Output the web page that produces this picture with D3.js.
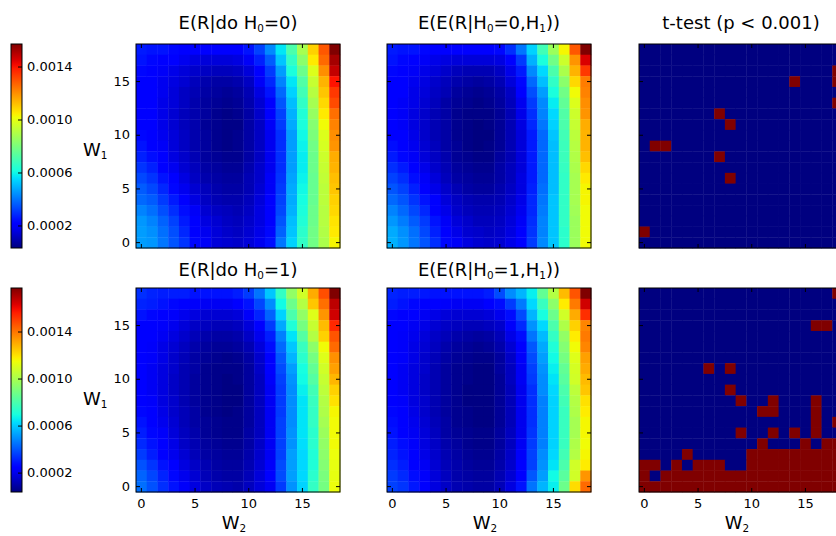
<!DOCTYPE html>
<html>
<head>
<meta charset="utf-8">
<script src="https://cdn.jsdelivr.net/npm/d3@7"></script>
<style>
  body { margin: 0; background: #fff; }
  svg { display: block; font-family: "DejaVu Sans", sans-serif; }
  .axis text { font-family: "DejaVu Sans", sans-serif; font-size: 13px; fill: #000; }
  .axis line { stroke: #000; }
</style>
</head>
<body>
<svg id="chart" width="836" height="536"></svg>
<script>
// grid: W2 along x, W1 along y
const w2Values = d3.range(19);
const w1Values = d3.range(19);
const tickValues = [0, 5, 10, 15];
const colorbarTicks = [0.0002, 0.0006, 0.0010, 0.0014];

// colour limits of each row (shared by its two reward maps)
const rangeH0 = [0.00003, 0.00157];
const rangeH1 = [0.000035, 0.00177];

// expected reward, units of 1e-5; rows run from W1 = 18 (top) down to W1 = 0
const doH0 = [
  [26,25,25,23,22,21,21,21,21,21,25,32,43,57,71,88,109,129,157],
  [25,23,21,20,18,16,15,15,15,16,19,27,36,52,66,83,105,126,152],
  [23,21,19,17,15,13,12,11,11,12,15,22,31,46,62,77,98,120,148],
  [21,20,18,16,14,11,9,8,8,9,12,19,28,42,57,72,94,114,140],
  [21,20,18,15,12,10,8,7,6,7,10,16,25,38,54,69,91,111,134],
  [21,20,17,15,12,9,7,6,5,6,9,14,22,35,51,66,88,108,131],
  [21,20,17,14,11,9,7,5,4,5,8,13,20,32,49,63,85,105,125],
  [21,20,17,14,11,9,6,5,4,4,8,12,19,31,48,62,82,102,122],
  [23,21,18,15,12,9,7,5,4,5,8,12,18,29,46,60,80,98,120],
  [25,22,19,15,12,9,7,5,4,5,8,12,18,29,46,59,78,97,119],
  [27,24,20,16,13,10,7,6,5,5,8,12,18,29,46,58,77,95,115],
  [30,27,22,18,14,11,8,7,6,6,9,13,18,29,46,58,77,94,114],
  [33,30,25,20,16,12,9,8,7,7,10,13,19,30,47,59,76,93,112],
  [36,33,28,23,18,14,11,9,8,8,10,14,19,31,48,60,76,92,111],
  [38,36,31,26,21,16,12,10,9,9,11,15,20,32,48,61,76,92,109],
  [42,39,34,29,24,19,14,12,11,10,12,16,21,33,49,62,77,91,108],
  [45,42,37,32,26,21,16,14,12,11,13,16,22,35,51,63,77,91,106],
  [46,44,39,34,28,22,18,15,13,12,14,17,23,37,52,65,78,90,105],
  [46,45,40,35,30,23,19,15,14,13,15,18,24,40,54,66,78,89,103]
];

const condH0 = [
  [26,25,25,23,22,21,21,21,21,21,23,29,40,54,69,86,103,129,157],
  [25,23,21,19,17,16,15,15,15,15,16,22,31,49,62,78,95,119,145],
  [23,21,19,17,15,13,11,10,10,10,12,17,26,43,55,71,89,114,134],
  [21,20,18,16,13,11,9,8,7,8,10,15,23,38,51,66,83,108,123],
  [21,20,17,15,12,10,7,6,5,6,8,12,20,34,46,62,78,102,122],
  [21,19,17,14,11,8,6,5,4,5,7,11,18,31,43,58,75,98,120],
  [21,19,16,13,10,8,5,4,4,4,6,10,17,29,42,55,72,95,119],
  [21,19,16,13,10,8,5,4,3,4,6,10,16,28,40,54,71,94,115],
  [22,20,17,13,10,8,5,4,3,3,6,10,15,26,38,52,69,92,114],
  [24,21,18,14,11,8,6,4,3,4,6,10,15,26,38,51,68,91,114],
  [26,23,19,15,12,9,6,5,4,4,7,10,15,26,38,51,68,90,112],
  [29,26,21,17,13,10,7,6,5,5,8,11,15,26,38,51,67,89,108],
  [32,29,24,19,15,11,8,7,6,6,8,11,16,26,38,51,66,88,105],
  [35,32,27,22,17,13,10,8,7,7,9,12,16,27,39,51,66,88,103],
  [38,35,30,25,20,15,12,10,9,9,10,13,17,28,40,52,66,88,103],
  [42,38,33,28,22,17,13,11,10,10,11,14,18,28,41,52,66,87,102],
  [45,41,36,31,25,19,15,13,11,11,12,15,19,29,42,52,66,86,102],
  [48,44,39,33,27,21,17,14,13,12,13,16,21,30,42,52,65,86,102],
  [49,45,40,35,29,23,19,16,14,13,14,17,22,31,43,52,65,86,102]
];

const doH1 = [
  [33,31,30,30,30,28,28,28,28,30,35,45,59,75,95,108,130,147,177],
  [31,30,28,26,24,22,21,21,21,23,28,37,49,68,87,102,125,141,168],
  [28,26,24,22,20,18,16,16,16,17,22,31,42,61,80,95,111,134,165],
  [25,24,22,20,17,14,13,12,12,13,17,25,35,54,71,89,106,127,154],
  [24,23,21,18,15,12,10,9,9,10,14,20,30,47,64,82,102,123,146],
  [24,22,19,16,13,10,8,7,7,8,11,17,27,43,59,76,94,115,142],
  [24,22,19,15,12,9,7,6,5,6,9,15,25,40,56,73,89,111,135],
  [24,21,18,15,11,9,6,5,5,5,8,14,23,38,52,69,85,108,132],
  [24,21,18,14,11,8,6,5,4,5,8,13,22,36,50,68,82,106,128],
  [24,21,18,14,11,8,6,5,4,4,8,13,21,35,49,66,78,104,123],
  [25,22,18,15,11,8,6,5,4,4,8,13,21,35,49,64,76,102,120],
  [26,23,19,15,12,9,6,5,4,5,8,13,21,35,49,64,75,101,116],
  [28,25,20,16,12,9,7,6,5,5,8,13,21,36,49,64,75,99,115],
  [30,26,22,17,13,10,7,6,5,5,9,13,21,36,50,64,73,97,115],
  [32,28,23,19,14,11,8,7,6,6,9,14,21,36,50,63,73,95,115],
  [35,30,25,20,16,12,9,8,7,7,10,15,21,36,52,62,71,94,114],
  [39,34,28,23,18,14,11,9,8,8,11,16,22,38,52,62,71,92,113],
  [42,37,31,26,20,16,12,10,9,9,12,17,23,38,52,62,73,90,113],
  [44,39,33,28,22,18,14,12,11,10,13,17,21,35,50,61,75,89,114]
];

const condH1 = [
  [31,30,30,29,28,28,28,28,28,30,38,49,56,66,85,102,127,146,177],
  [30,28,26,25,23,22,21,21,21,23,27,35,46,62,76,94,118,139,165],
  [26,25,23,21,19,17,16,16,16,17,20,27,38,56,69,87,108,130,153],
  [24,23,21,19,16,14,13,12,12,13,15,22,32,50,62,80,101,123,137],
  [24,22,20,17,14,12,10,9,8,9,12,19,27,45,57,75,95,118,139],
  [24,22,19,16,13,10,8,7,6,7,10,16,24,40,54,71,92,115,137],
  [24,22,19,15,12,9,7,6,5,5,8,14,22,38,52,68,89,111,132],
  [24,21,18,15,11,8,6,5,4,4,8,13,21,36,50,66,85,109,130],
  [24,21,18,14,11,8,6,5,4,4,7,13,21,35,49,64,83,108,127],
  [24,21,18,14,11,8,6,4,4,4,7,12,20,33,49,62,80,104,125],
  [25,22,18,15,11,8,6,4,4,4,7,12,20,33,47,61,78,102,120],
  [26,23,19,15,11,8,6,5,4,4,7,12,20,33,47,61,76,101,118],
  [27,24,20,16,12,9,6,5,4,4,7,12,20,33,47,61,76,99,116],
  [28,25,21,17,13,9,7,6,5,5,8,13,20,34,47,61,76,99,116],
  [30,27,22,18,14,10,8,6,5,5,8,13,21,35,47,61,76,101,115],
  [31,28,23,19,15,11,9,7,6,6,9,14,22,36,49,62,78,102,116],
  [33,30,25,21,16,12,10,8,7,7,10,15,23,36,50,64,80,108,118],
  [35,32,27,22,17,13,10,9,8,8,11,16,25,40,52,68,83,108,134],
  [36,34,29,24,18,14,11,10,9,9,12,18,28,45,56,66,87,121,142]
];

// t-test: W2 columns that are significant, rows from W1 = 18 down to W1 = 0
const sigH0 = [
  [], [], [18], [14, 18], [], [18], [7], [8], [], [1, 2],
  [7], [], [8], [], [], [], [], [0], []
];

const sigH1 = [
  [18], [], [], [16, 17], [], [], [], [6, 8], [], [8],
  [9, 12, 16], [11, 12, 16], [16, 18], [9, 12, 14, 16], [11, 15, 17, 18],
  [4, 10, 11, 12, 13, 14, 15, 16, 17, 18],
  [0, 1, 3, 5, 6, 7, 10, 11, 12, 13, 14, 15, 16, 17, 18],
  [0, 2, 3, 4, 5, 6, 7, 8, 9, 10, 11, 12, 13, 14, 15, 16, 17, 18],
  [0, 1, 2, 3, 4, 5, 6, 7, 8, 9, 10, 11, 12, 13, 14, 15, 16, 17, 18]
];

const titlesTop = ["E(R|do H_0=0)", "E(E(R|H_0=0,H_1))", "t-test (p < 0.001)"];
const titlesBottom = ["E(R|do H_0=1)", "E(E(R|H_0=1,H_1))", ""];

// matplotlib "jet"
const jetR = d3.scaleLinear().domain([0, 0.35, 0.66, 0.89, 1]).range([0, 0, 1, 1, 0.5]).clamp(true);
const jetG = d3.scaleLinear().domain([0, 0.125, 0.375, 0.64, 0.91, 1]).range([0, 0, 1, 1, 0, 0]).clamp(true);
const jetB = d3.scaleLinear().domain([0, 0.11, 0.34, 0.65, 1]).range([0.5, 1, 1, 0, 0]).clamp(true);
const jet = t => d3.rgb(jetR(t) * 255, jetG(t) * 255, jetB(t) * 255).formatHex();

const svg = d3.select('#chart');
const size = 204;
const colX = [136, 387, 639];
const rowY = [44, 288];

const xScale = d3.scaleBand().domain(w2Values).range([0, size]);
const yScale = d3.scaleBand().domain(w1Values.slice().reverse()).range([0, size]);

// text with "_x" as a one-character subscript
function richText(sel, str, fontSize) {
  let shifted = false;
  str.split(/(_.)/).filter(s => s.length).forEach(part => {
    if (part[0] === '_') {
      sel.append('tspan').attr('font-size', fontSize * 0.58).attr('dy', fontSize * 0.18).text(part.slice(1));
      shifted = true;
    } else {
      sel.append('tspan').attr('dy', shifted ? -fontSize * 0.18 : 0).text(part);
      shifted = false;
    }
  });
}

function addAxes(g, showX, showY) {
  const blank = () => '';
  const clean = a => a.select('.domain').remove();
  g.append('g').attr('class', 'axis').attr('transform', `translate(0,${size})`)
    .call(d3.axisBottom(xScale).tickValues(tickValues).tickSizeInner(-4).tickSizeOuter(0)
      .tickPadding(7).tickFormat(showX ? d3.format('d') : blank))
    .call(clean);
  g.append('g').attr('class', 'axis')
    .call(d3.axisTop(xScale).tickValues(tickValues).tickSizeInner(-4).tickSizeOuter(0).tickFormat(blank))
    .call(clean);
  g.append('g').attr('class', 'axis')
    .call(d3.axisLeft(yScale).tickValues(tickValues).tickSizeInner(-4).tickSizeOuter(0)
      .tickPadding(6).tickFormat(showY ? d3.format('d') : blank))
    .call(clean);
  g.append('g').attr('class', 'axis').attr('transform', `translate(${size},0)`)
    .call(d3.axisRight(yScale).tickValues(tickValues).tickSizeInner(-4).tickSizeOuter(0).tickFormat(blank))
    .call(clean);
}

function drawCells(g, cells) {
  g.selectAll('rect.cell')
    .data(cells)
    .join('rect')
    .attr('class', 'cell')
    .attr('x', d => xScale(d.w2))
    .attr('y', d => yScale(d.w1))
    .attr('width', xScale.bandwidth() + 0.4)
    .attr('height', yScale.bandwidth() + 0.4)
    .attr('fill', d => d.color);
  g.append('rect')
    .attr('width', size).attr('height', size)
    .attr('fill', 'none').attr('stroke', '#000').attr('stroke-width', 1);
}

function rewardCells(rows, range) {
  const norm = d3.scaleLinear().domain(range).range([0, 1]).clamp(true);
  const cells = [];
  rows.forEach((row, i) => row.forEach((v, j) => {
    cells.push({ w1: 18 - i, w2: j, color: jet(norm(v * 1e-5)) });
  }));
  return cells;
}

function maskCells(sig) {
  const cells = [];
  sig.forEach((cols, i) => w2Values.forEach(j => {
    cells.push({ w1: 18 - i, w2: j, color: cols.includes(j) ? jet(1) : jet(0) });
  }));
  return cells;
}

// colour bar gradient
const grad = svg.append('defs').append('linearGradient')
  .attr('id', 'jetGrad').attr('x1', 0).attr('y1', 1).attr('x2', 0).attr('y2', 0);
d3.range(0, 1.0001, 0.02).forEach(t => {
  grad.append('stop').attr('offset', t).attr('stop-color', jet(t));
});

const rows = [
  { y: rowY[0], maps: [doH0, condH0], sig: sigH0, range: rangeH0, titles: titlesTop, titleY: 29, labelY: 156, bottom: false },
  { y: rowY[1], maps: [doH1, condH1], sig: sigH1, range: rangeH1, titles: titlesBottom, titleY: 276, labelY: 405, bottom: true }
];

rows.forEach(r => {
  // colour bar
  const cb = svg.append('g').attr('transform', `translate(11,${r.y})`);
  cb.append('rect').attr('width', 11).attr('height', size).attr('fill', 'url(#jetGrad)')
    .attr('stroke', '#000').attr('stroke-width', 1);
  const cbScale = d3.scaleLinear().domain(r.range).range([size, 0]);
  cb.append('g').attr('class', 'axis').attr('transform', 'translate(11,0)')
    .call(d3.axisRight(cbScale).tickValues(colorbarTicks).tickSizeInner(-4).tickSizeOuter(0)
      .tickPadding(5).tickFormat(d3.format('.4f')))
    .call(a => a.select('.domain').remove());

  // y label
  richText(svg.append('text').attr('x', 83).attr('y', r.labelY).attr('font-size', 18), 'W_1', 18);

  colX.forEach((x, k) => {
    const g = svg.append('g').attr('transform', `translate(${x},${r.y})`);
    const cells = k < 2 ? rewardCells(r.maps[k], r.range) : maskCells(r.sig);
    drawCells(g, cells);
    addAxes(g, r.bottom, k === 0);

    if (r.titles[k]) {
      richText(svg.append('text').attr('x', x + size / 2).attr('y', r.titleY)
        .attr('text-anchor', 'middle').attr('font-size', 18), r.titles[k], 18);
    }
    if (r.bottom) {
      richText(svg.append('text').attr('x', x + size / 2 - 4).attr('y', 529)
        .attr('text-anchor', 'middle').attr('font-size', 18), 'W_2', 18);
    }
  });
});
</script>
</body>
</html>
